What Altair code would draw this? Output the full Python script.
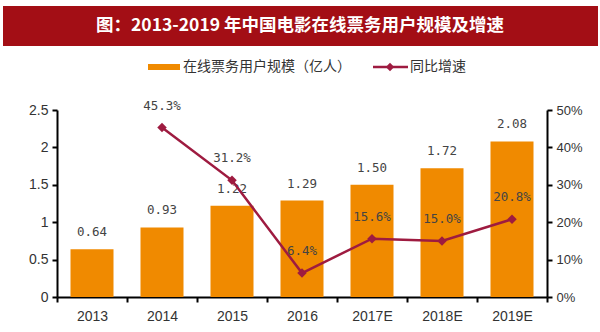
import altair as alt
import pandas as pd

years = ["2013", "2014", "2015", "2016", "2017E", "2018E", "2019E"]
users = [0.64, 0.93, 1.22, 1.29, 1.50, 1.72, 2.08]
growth = [None, 0.453, 0.312, 0.064, 0.156, 0.150, 0.208]

title_text = "图：2013-2019 年中国电影在线票务用户规模及增速"
legend_bar = "在线票务用户规模（亿人）"
legend_line = "同比增速"

BAR = "#F08A00"
LINE = "#9E1B40"
BANNER = "#A30E15"
TXT = "#333333"

df = pd.DataFrame({"year": years, "users": users, "growth": growth})
one = pd.DataFrame({"k": [0]})

x = alt.X("year:N", sort=years, title=None,
          scale=alt.Scale(paddingInner=0, paddingOuter=0),
          axis=alt.Axis(labelAngle=0, tickBand="extent", domainColor="black",
                        domainWidth=2, tickColor="black", tickWidth=2, tickSize=5,
                        labelFont="Liberation Sans", labelFontSize=14,
                        labelColor=TXT, labelPadding=7))

base = alt.Chart(df)

yl = alt.Y("users:Q", title=None,
           scale=alt.Scale(domain=[0, 2.5], nice=False),
           axis=alt.Axis(orient="left", values=[0, 0.5, 1, 1.5, 2, 2.5], format="~g",
                         grid=False, domainColor="black", domainWidth=2,
                         tickColor="black", tickWidth=2, tickSize=5,
                         labelFont="Liberation Sans", labelFontSize=14,
                         labelColor=TXT, labelPadding=4))

bars = base.mark_bar(color=BAR, size=43).encode(x=x, y=yl)
bar_labels = base.mark_text(font="DejaVu Sans Mono", fontSize=12.5, color="#444444",
                            baseline="middle", dy=-17).encode(
    x=x, y=yl, text=alt.Text("users:Q", format=".2f"))
left = alt.layer(bars, bar_labels)

yr = alt.Y("growth:Q", title=None,
           scale=alt.Scale(domain=[0, 0.5], nice=False),
           axis=alt.Axis(orient="right", values=[0, 0.1, 0.2, 0.3, 0.4, 0.5], format=".0%",
                         grid=False, domainColor="black", domainWidth=2,
                         tickColor="black", tickWidth=2, tickSize=5,
                         labelFont="Liberation Sans", labelFontSize=13,
                         labelColor=TXT, labelPadding=4))

gbase = base.transform_filter("datum.growth != null")
line = gbase.mark_line(color=LINE, strokeWidth=2.5).encode(x=x, y=yr)
pts = gbase.mark_point(shape="diamond", filled=True, color=LINE, size=90, opacity=1).encode(x=x, y=yr)
glabels = gbase.mark_text(font="DejaVu Sans Mono", fontSize=12.5, color="#444444",
                          baseline="middle", dy=-22).encode(
    x=x, y=yr, text=alt.Text("growth:Q", format=".1%"))
right = alt.layer(line, pts, glabels)

deco = alt.Chart(one)
banner = deco.mark_rect(color=BANNER).encode(
    x=alt.value(-54), x2=alt.value(541), y=alt.value(-104), y2=alt.value(-64))
title = deco.mark_text(text=title_text, font="Noto Sans CJK SC", fontWeight="bold",
                       fontSize=17.5, color="white", align="center", baseline="middle").encode(
    x=alt.value(243), y=alt.value(-84))
leg_rect = deco.mark_rect(color=BAR).encode(
    x=alt.value(91), x2=alt.value(123), y=alt.value(-46), y2=alt.value(-40))
leg_t1 = deco.mark_text(text=legend_bar, font="Noto Sans CJK SC", fontSize=14, color=TXT,
                        align="left", baseline="middle").encode(
    x=alt.value(126), y=alt.value(-43))
leg_rule = deco.mark_rule(color=LINE, strokeWidth=2.5).encode(
    x=alt.value(316), x2=alt.value(351), y=alt.value(-43))
leg_pt = deco.mark_point(shape="diamond", filled=True, color=LINE, size=70, opacity=1).encode(
    x=alt.value(333), y=alt.value(-43))
leg_t2 = deco.mark_text(text=legend_line, font="Noto Sans CJK SC", fontSize=14, color=TXT,
                        align="left", baseline="middle").encode(
    x=alt.value(353), y=alt.value(-43))

chart = alt.layer(left, right, banner, title, leg_rect, leg_t1, leg_rule, leg_pt, leg_t2).resolve_scale(
    y="independent"
).properties(
    width=490, height=187,
    autosize=alt.AutoSizeParams(type="none"),
    padding={"left": 57, "top": 110, "right": 53, "bottom": 35},
    background="white"
).configure_view(stroke=None)

chart.save("out.html", embed_options={"renderer": "svg", "actions": False})
